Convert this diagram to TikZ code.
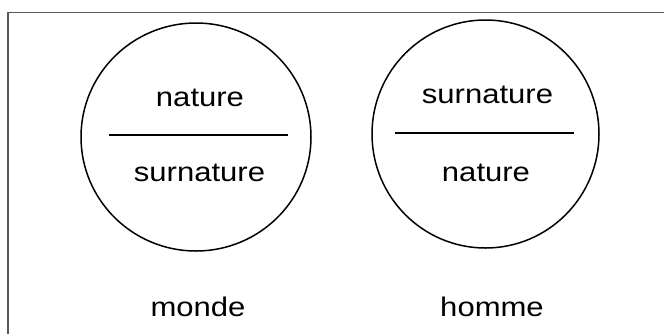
\documentclass[tikz,border=0pt]{standalone}
\usepackage{fontspec}
\setmainfont{Liberation Sans}[FakeStretch=1.15]
\begin{document}
\begin{tikzpicture}[x=1pt,y=-1pt,
  frameline/.style={draw=black!65,line width=1.6pt},
  ring/.style={draw=black,line width=1.5pt},
  divider/.style={draw=black,line width=1.6pt},
  lbl/.style={font=\fontsize{27}{30}\selectfont,inner sep=0pt,anchor=center}]
\useasboundingbox (0,0) rectangle (664,333);
\fill[white] (0,0) rectangle (664,333);
% frame (top and left edges visible)
\coordinate (ftl) at (8,12.5);
\coordinate (ftr) at (665,12.5);
\coordinate (fbl) at (8,334);
\draw[frameline] (ftr) -- (ftl) -- (fbl);
% left circle (monde)
\draw[ring] (196,137) ellipse [x radius=115, y radius=114];
\coordinate (l1) at (109,135);
\coordinate (l2) at (288,135);
\draw[divider] (l1) -- (l2);
\node[lbl] (ln) at (200,98) {nature};
\node[lbl] (ls) at (199.5,173) {surnature};
% right circle (homme)
\draw[ring] (485.5,134) ellipse [x radius=113.5, y radius=114];
\coordinate (r1) at (395,133);
\coordinate (r2) at (574,133);
\draw[divider] (r1) -- (r2);
\node[lbl] (rs) at (487.5,95) {surnature};
\node[lbl] (rn) at (486,173) {nature};
% captions
\node[lbl] (monde) at (198,307) {monde};
\node[lbl] (homme) at (492,307) {homme};
\end{tikzpicture}
\end{document}
